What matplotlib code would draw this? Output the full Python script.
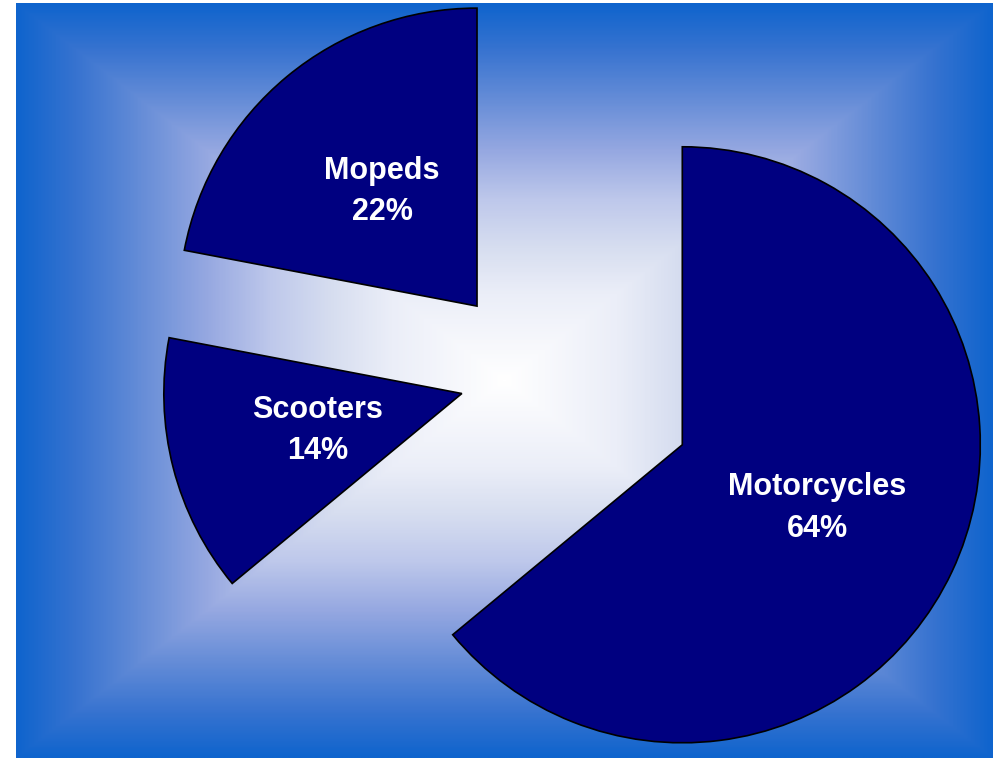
import numpy as np
import matplotlib.pyplot as plt
from matplotlib.colors import LinearSegmentedColormap

# Data
names = ['Motorcycles', 'Scooters', 'Mopeds']
shares = [64, 14, 22]
pull_out = [0.55, 0.25, 0.30]  # as a fraction of the radius

R = 298

fig = plt.figure(figsize=(9.94, 7.58), dpi=100, facecolor='white')
ax = fig.add_axes([0, 0, 1, 1])

# Rectangular "from centre" gradient background
x0, x1, y0, y1 = 16, 993, 0, 755
gx = np.linspace(-1, 1, 800)
gy = np.linspace(-1, 1, 620)
X, Y = np.meshgrid(gx, gy)
t = np.maximum(np.abs(X), np.abs(Y))
bg_cmap = LinearSegmentedColormap.from_list('bg', [
    (0.00, '#ffffff'),
    (0.23, '#ebeef8'),
    (0.35, '#d7def0'),
    (0.48, '#bec8eb'),
    (0.61, '#96a8e1'),
    (0.75, '#648cd7'),
    (0.88, '#3773d0'),
    (1.00, '#0f64cd'),
])
ax.imshow(t, cmap=bg_cmap, vmin=0, vmax=1, extent=(x0, x1, y0, y1),
          aspect='auto', interpolation='bilinear', zorder=0)

# pie's explode is in data units, so scale by the radius
wedges, _, autotexts = ax.pie(
    shares, explode=[p * R for p in pull_out], startangle=90, counterclock=False,
    center=(534, 383), radius=R, colors=['#000080'] * 3,
    wedgeprops=dict(edgecolor='black', linewidth=1.2),
    autopct='%1.0f%%', pctdistance=0.5, frame=True)

for txt, name in zip(autotexts, names):
    txt.set_text(f'{name}\n{txt.get_text()}')
    txt.set_color('white')
    txt.set_fontfamily('Liberation Sans')
    txt.set_fontweight('bold')
    txt.set_fontsize(22)
    txt.set_linespacing(1.5)
    txt.set_zorder(5)

ax.set_xlim(0, 994)
ax.set_ylim(0, 758)
ax.axis('off')

fig.savefig('out.png', dpi=100, facecolor='white')
